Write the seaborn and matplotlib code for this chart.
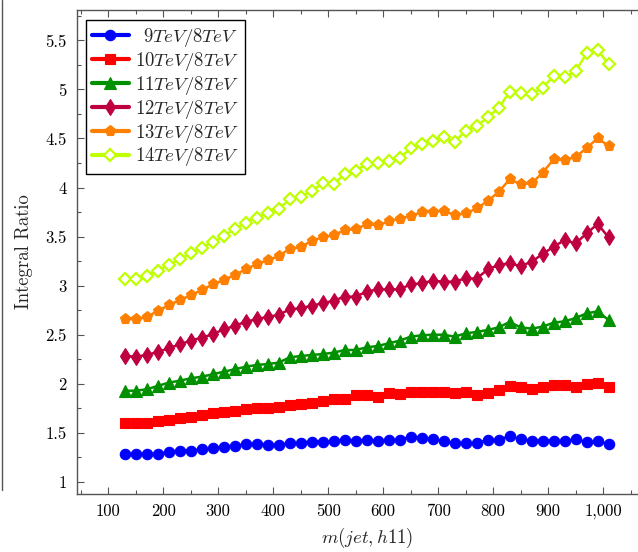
import matplotlib
matplotlib.use("Agg")
import matplotlib.pyplot as plt
from matplotlib.lines import Line2D
from matplotlib.ticker import MultipleLocator
import seaborn as sns

mass = [130, 150, 170, 190, 210, 230, 250, 270, 290, 310, 330, 350, 370, 390, 410,
        430, 450, 470, 490, 510, 530, 550, 570, 590, 610, 630, 650, 670, 690, 710,
        730, 750, 770, 790, 810, 830, 850, 870, 890, 910, 930, 950, 970, 990, 1010]

r9 = [1.283, 1.283, 1.279, 1.279, 1.307, 1.317, 1.317, 1.330, 1.341, 1.358, 1.368, 1.381,
      1.385, 1.378, 1.371, 1.398, 1.398, 1.409, 1.409, 1.415, 1.426, 1.415, 1.426, 1.412,
      1.426, 1.426, 1.460, 1.446, 1.432, 1.415, 1.392, 1.392, 1.392, 1.426, 1.426, 1.466,
      1.432, 1.419, 1.419, 1.419, 1.412, 1.432, 1.405, 1.412, 1.385]
r10 = [1.596, 1.596, 1.596, 1.619, 1.630, 1.647, 1.664, 1.680, 1.697, 1.711, 1.725, 1.738,
       1.748, 1.755, 1.759, 1.782, 1.793, 1.806, 1.827, 1.840, 1.847, 1.884, 1.884, 1.867,
       1.901, 1.895, 1.918, 1.918, 1.918, 1.915, 1.908, 1.918, 1.884, 1.901, 1.935, 1.976,
       1.962, 1.949, 1.969, 1.983, 1.983, 1.962, 1.996, 2.003, 1.969]
r11 = [1.928, 1.928, 1.942, 1.976, 2.010, 2.030, 2.054, 2.071, 2.095, 2.122, 2.146, 2.173,
       2.190, 2.200, 2.214, 2.268, 2.282, 2.292, 2.302, 2.316, 2.343, 2.343, 2.370, 2.384,
       2.411, 2.438, 2.479, 2.493, 2.499, 2.499, 2.479, 2.513, 2.527, 2.547, 2.574, 2.628,
       2.574, 2.561, 2.581, 2.622, 2.635, 2.669, 2.717, 2.737, 2.649]
r12 = [2.282, 2.275, 2.292, 2.323, 2.360, 2.401, 2.438, 2.469, 2.503, 2.554, 2.588, 2.632,
       2.656, 2.683, 2.700, 2.758, 2.768, 2.795, 2.819, 2.846, 2.887, 2.887, 2.938, 2.961,
       2.961, 2.961, 3.012, 3.023, 3.050, 3.040, 3.040, 3.074, 3.070, 3.165, 3.210, 3.227,
       3.199, 3.243, 3.322, 3.396, 3.464, 3.430, 3.532, 3.628, 3.492]
r13 = [2.659, 2.656, 2.676, 2.744, 2.798, 2.853, 2.900, 2.955, 3.012, 3.057, 3.108, 3.165,
       3.220, 3.260, 3.300, 3.376, 3.390, 3.458, 3.492, 3.512, 3.566, 3.573, 3.627, 3.614,
       3.655, 3.682, 3.709, 3.750, 3.750, 3.763, 3.719, 3.736, 3.787, 3.862, 3.954, 4.083,
       4.035, 4.042, 4.151, 4.287, 4.280, 4.314, 4.399, 4.504, 4.423]
r14 = [3.070, 3.066, 3.101, 3.152, 3.209, 3.267, 3.329, 3.386, 3.441, 3.505, 3.577, 3.641,
       3.692, 3.743, 3.780, 3.879, 3.906, 3.967, 4.042, 4.035, 4.137, 4.171, 4.239, 4.253,
       4.266, 4.300, 4.399, 4.443, 4.474, 4.511, 4.463, 4.579, 4.626, 4.715, 4.810, 4.976,
       4.959, 4.953, 5.017, 5.136, 5.123, 5.187, 5.367, 5.401, 5.258]

labels = [r"$\enspace9TeV/8TeV\enspace\,$", r"$10TeV/8TeV\enspace\,$",
          r"$11TeV/8TeV\enspace\,$", r"$12TeV/8TeV\enspace\,$",
          r"$13TeV/8TeV\enspace\,$", r"$14TeV/8TeV\enspace\,$"]
colors = ["#0000FF", "#FF0000", "#009000", "#BF0040", "#FF8000", "#BFFF00"]
markers = ["o", "s", "^", "d", "p", "D"]
msizes = [7.5, 7.5, 8.0, 8.5, 8.0, 5.8]

xticks = [100, 200, 300, 400, 500, 600, 700, 800, 900, 1000]
xticklabels = ["100", "200", "300", "400", "500", "600", "700", "800", "900", "1,000"]
yticks = [1, 1.5, 2, 2.5, 3, 3.5, 4, 4.5, 5, 5.5]
yticklabels = ["1", "1.5", "2", "2.5", "3", "3.5", "4", "4.5", "5", "5.5"]

sns.set_style("ticks")
plt.rcParams["font.family"] = ["cmr10", "DejaVu Serif"]
plt.rcParams["mathtext.fontset"] = "cm"
plt.rcParams["axes.unicode_minus"] = False

fig = plt.figure(figsize=(6.38, 5.52), dpi=100)
# axes run past the right edge, like the cropped original
ax = fig.add_axes([0.1202, 0.1051, 0.9096, 0.8768])

series = [r9, r10, r11, r12, r13, r14]
for vals, lab, col, mk, ms in zip(series, labels, colors, markers, msizes):
    face = "white" if mk == "D" else col
    sns.lineplot(x=mass, y=vals, ax=ax, color=col, marker=mk, markersize=ms,
                 markerfacecolor=face, markeredgecolor=col,
                 markeredgewidth=1.6 if mk == "D" else 0.8,
                 linewidth=1.8, label=lab)

ax.set_xlim(42.8, 1098)
ax.set_ylim(0.875, 5.81)
ax.set_xticks(xticks)
ax.set_xticklabels(xticklabels)
ax.set_yticks(yticks)
ax.set_yticklabels(yticklabels)
ax.xaxis.set_minor_locator(MultipleLocator(50))
ax.yaxis.set_minor_locator(MultipleLocator(0.25))
ax.tick_params(which="both", direction="in", top=True, right=True,
               colors="#555555", labelcolor="black", labelsize=12)
ax.tick_params(which="major", length=5, width=0.8, pad=7)
ax.tick_params(which="minor", length=2.8, width=0.8)
for sp in ax.spines.values():
    sp.set_color("#555555")
    sp.set_linewidth(1.0)

ax.set_xlabel(r"$m(jet, h11)$", fontsize=13.5, labelpad=5)
ax.set_ylabel("Integral Ratio", fontsize=13.5, labelpad=9)

leg = ax.legend(loc="upper left", bbox_to_anchor=(0.016, 0.979), borderaxespad=0,
                fontsize=13.5, frameon=True, fancybox=False, edgecolor="black",
                framealpha=1, handlelength=2.0, handletextpad=0.3,
                labelspacing=0.05, borderpad=0.3)
leg.get_frame().set_linewidth(1.0)
for h in leg.legend_handles:
    h.set_linewidth(3.0)

# stray frame line on the left edge of the crop
fig.add_artist(Line2D([1.5 / 638, 1.5 / 638], [1 - 490 / 552, 1.0],
                      color="#555555", linewidth=1.0))

fig.savefig("out.png", dpi=100)
